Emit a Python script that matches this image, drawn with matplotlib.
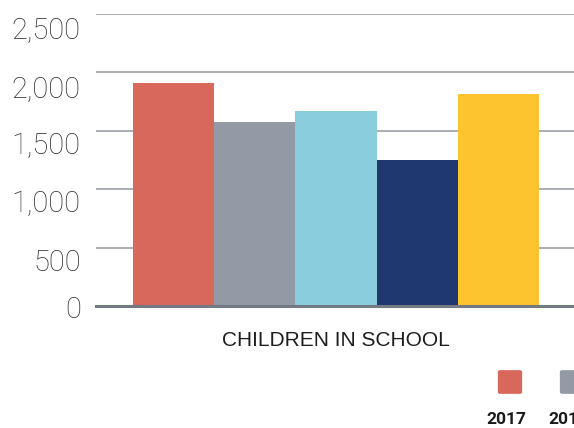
import matplotlib
matplotlib.use("Agg")
import matplotlib.pyplot as plt
from matplotlib.patches import FancyBboxPatch
from matplotlib.transforms import ScaledTranslation

# Data
category = "CHILDREN IN SCHOOL"
series_labels = ["2017", "2018", "2019", "2020", "2021"]
values = [1910, 1575, 1670, 1250, 1815]
colors = ["#D8675C", "#9399A5", "#8ACEDD", "#1F3870", "#FEC42F"]
yticks = [0, 500, 1000, 1500, 2000, 2500]

W, H = 574, 428
fig = plt.figure(figsize=(W / 100, H / 100), dpi=100)
ax = fig.add_axes([96 / W, (H - 306) / H, (574 - 96) / W, 292 / H])

xs = list(range(len(values)))
ax.bar(xs, values, width=1.0, color=colors, zorder=3, linewidth=0)

ax.set_ylim(0, 2500)
ax.set_xlim(-0.954, 4.93)
ax.set_yticks(yticks)
ax.set_yticklabels([f"{v:,}" for v in yticks], fontsize=21, color="#2e2e2e",
                   family=["Roboto", "DejaVu Sans"], fontweight="light")
ax.set_xticks([2])
ax.set_xticklabels([category], fontsize=15, color="#1e1e1e",
                   family=["Liberation Sans", "DejaVu Sans"])
ax.tick_params(axis="y", length=0, pad=11)
ax.tick_params(axis="x", length=0, pad=18)
ax.grid(axis="y", color="#9ca1a8", linewidth=1.2, zorder=0)
ax.set_axisbelow(True)
for s in ["top", "right", "left"]:
    ax.spines[s].set_visible(False)
ax.spines["bottom"].set_color("#737a82")
ax.spines["bottom"].set_linewidth(2.2)
ax.spines["bottom"].set_zorder(4)

# tick labels in the reference sit slightly below their gridlines
label_shift_px = [1, 12, 12, 12, 14.5, 13.5]
for lbl, dy in zip(ax.get_yticklabels(), label_shift_px):
    lbl.set_transform(lbl.get_transform() + ScaledTranslation(0, -dy / 100, fig.dpi_scale_trans))

# Legend (items below, partially cut off at the right edge)
x0 = 498
spacing = 62
for i, (lab, c) in enumerate(zip(series_labels, colors)):
    sx = x0 + i * spacing
    if sx > W:
        break
    patch = FancyBboxPatch(((sx + 1) / W, (H - 393) / H), 22 / W, 22 / H,
                           boxstyle="round,pad=0.002,rounding_size=0.004",
                           transform=fig.transFigure, facecolor=c, edgecolor="none")
    fig.patches.append(patch)
    fig.text((sx + 8.5) / W, (H - 419) / H, lab, ha="center", va="center",
             fontsize=12.5, fontweight="bold", color="#1a1a1a",
             family=["Roboto", "DejaVu Sans"])

fig.savefig("out.png", dpi=100)
